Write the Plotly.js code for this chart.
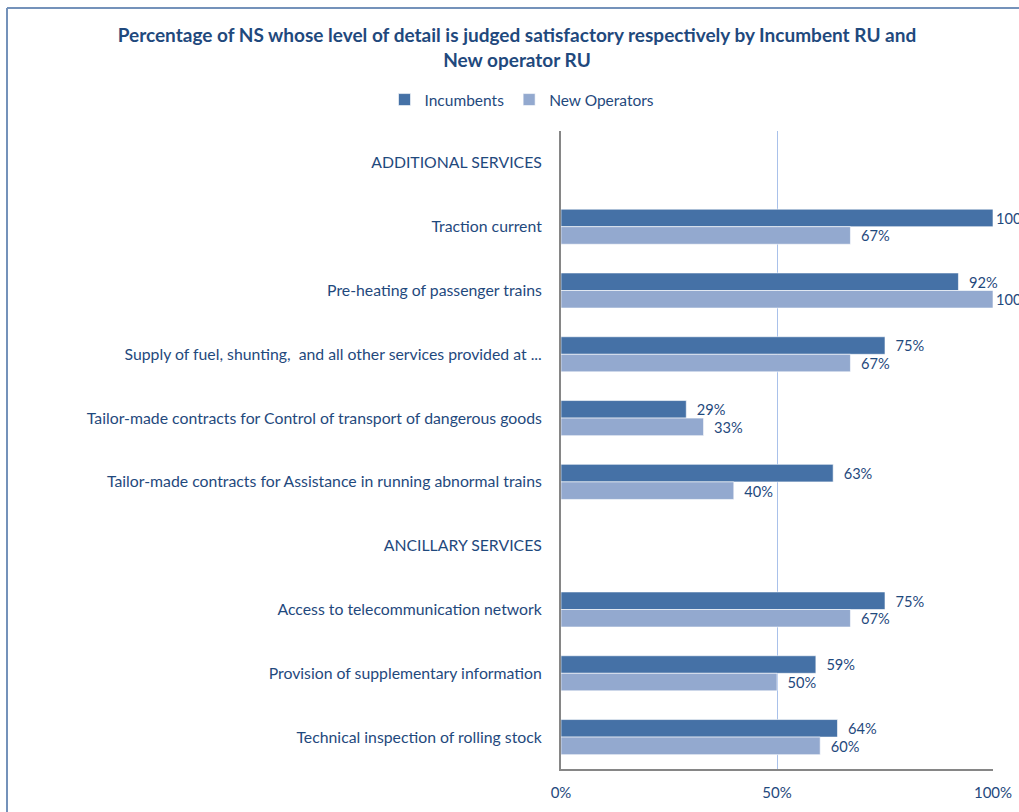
<!DOCTYPE html>
<html><head><meta charset="utf-8">
<script src="https://cdn.plot.ly/plotly-3.0.1.min.js"></script>
<style>html,body{margin:0;padding:0;background:#fff;}#chart{width:1019px;height:812px;}</style>
</head><body><div id="chart"></div>
<script>
var categories = [
  "ADDITIONAL SERVICES",
  "Traction current",
  "Pre-heating of passenger trains",
  "Supply of fuel, shunting,  and all other services provided at ...",
  "Tailor-made contracts for Control of transport of dangerous goods",
  "Tailor-made contracts for Assistance in running abnormal trains",
  "ANCILLARY SERVICES",
  "Access to telecommunication network",
  "Provision of supplementary information",
  "Technical inspection of rolling stock"
];
var incumbents = [null, 100, 92, 75, 29, 63, null, 75, 59, 64];
var newOperators = [null, 67, 100, 67, 33, 40, null, 67, 50, 60];
var xTickVals = [0, 50, 100];
var xTickText = ["0%", "50%", "100%"];

var txtColor = "#1F497D";
var fontFam = "Lato, 'Open Sans', sans-serif";
function labels(arr){
  return arr.map(function(v){
    if (v === null) return "";
    return (v >= 100 ? "" : "\u00A0\u00A0") + v + "%";
  });
}

var W = 1019, H = 812, L = 561, R = 26, T = 131, B = 43;
var pw = W - L - R, ph = H - T - B;
function px(x){ return (x - L) / pw; }
function py(y){ return (H - B - y) / ph; }

var traces = [
  {type:"bar", orientation:"h", name:"Incumbents", y:categories, x:incumbents,
   marker:{color:"#4571A6", line:{color:"#ffffff", width:0.6}},
   text:labels(incumbents), textposition:"outside", cliponaxis:false,
   textfont:{color:txtColor, size:15, family:fontFam}, hoverinfo:"x+y"},
  {type:"bar", orientation:"h", name:"New Operators", y:categories, x:newOperators,
   marker:{color:"#93A9CF", line:{color:"#ffffff", width:0.6}},
   text:labels(newOperators), textposition:"outside", cliponaxis:false,
   textfont:{color:txtColor, size:15, family:fontFam}, hoverinfo:"x+y"}
];

var borderColor = "#7492BA";
var layout = {
  width:W, height:H,
  margin:{l:L, r:R, t:T, b:B, pad:0},
  paper_bgcolor:"#ffffff", plot_bgcolor:"#ffffff",
  font:{family:fontFam, color:txtColor, size:15},
  title:{text:"Percentage of NS whose level of detail is judged satisfactory respectively by Incumbent RU and<br>New operator RU",
         font:{family:fontFam, size:19, color:txtColor, weight:"bold"},
         xref:"container", x:517/W, xanchor:"center",
         yref:"container", y:1 - 42/H, yanchor:"top"},
  barmode:"group", bargap:0.45, bargroupgap:0,
  showlegend:true,
  legend:{orientation:"h", xref:"paper", x:px(522), xanchor:"center", yref:"paper", y:py(100), yanchor:"middle",
          font:{size:15.5, color:txtColor, family:fontFam}, itemwidth:30, tracegroupgap:0, traceorder:"normal"},
  xaxis:{range:[0,100], tickvals:xTickVals, ticktext:xTickText, showgrid:true, gridcolor:"#A9C1EA", gridwidth:1,
         zeroline:false, showline:true, linecolor:"#868686", linewidth:2, ticks:"", ticklabelstandoff:9,
         tickfont:{size:15, color:txtColor, family:fontFam}, fixedrange:true},
  yaxis:{type:"category", autorange:"reversed", showgrid:false, zeroline:false, showline:true, linecolor:"#868686", linewidth:2,
         ticks:"", ticklabelstandoff:14, tickfont:{size:15.8, color:txtColor, family:fontFam}, fixedrange:true},
  shapes:[
    {type:"line", xref:"paper", yref:"paper", x0:px(7), x1:px(7), y0:py(830), y1:py(8), line:{color:borderColor, width:2}, layer:"below"},
    {type:"line", xref:"paper", yref:"paper", x0:px(7), x1:px(1030), y0:py(8), y1:py(8), line:{color:borderColor, width:2}, layer:"below"}
  ]
};
Plotly.newPlot("chart", traces, layout, {displayModeBar:false, staticPlot:true});
</script></body></html>
